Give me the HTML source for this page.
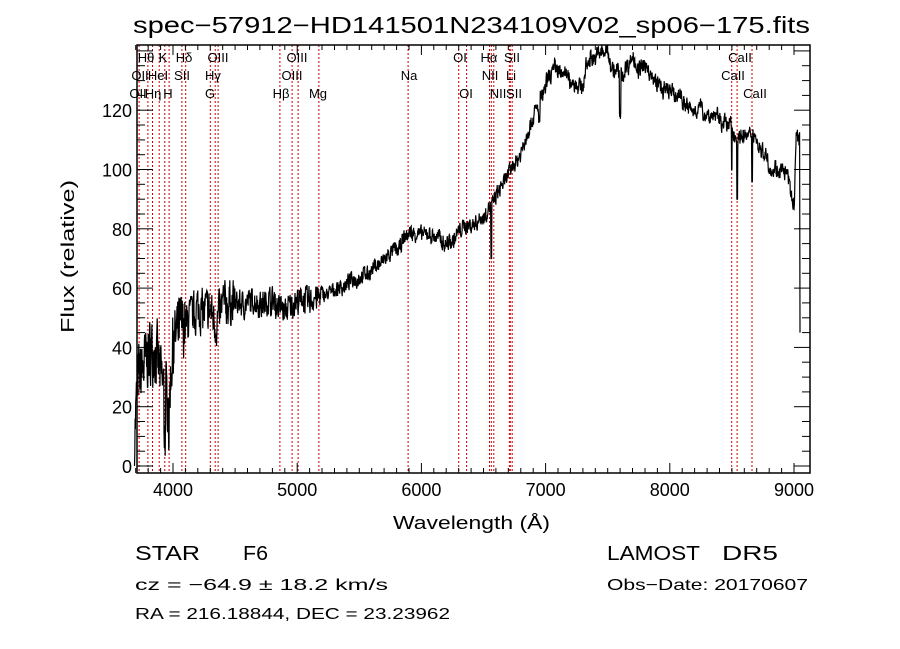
<!DOCTYPE html>
<html><head><meta charset="utf-8"><style>
body{margin:0;background:#fff;}
svg{display:block;font-family:"Liberation Sans","DejaVu Sans",sans-serif;}
</style></head><body>
<svg id="s" width="900" height="649" viewBox="0 0 900 649" xmlns="http://www.w3.org/2000/svg">
<rect width="900" height="649" fill="#fff"/>
<text x="133" y="33" font-size="23" textLength="677" lengthAdjust="spacingAndGlyphs">spec−57912−HD141501N234109V02_sp06−175.fits</text>
<text transform="translate(74,333) rotate(-90)" font-size="18" textLength="153" lengthAdjust="spacingAndGlyphs">Flux (relative)</text>
<text x="393" y="529" font-size="18" textLength="157" lengthAdjust="spacingAndGlyphs">Wavelength (Å)</text>
<text x="135" y="560" font-size="20" textLength="65" lengthAdjust="spacingAndGlyphs">STAR</text>
<text x="243" y="560" font-size="20" textLength="25" lengthAdjust="spacingAndGlyphs">F6</text>
<text x="607" y="560" font-size="20" textLength="93" lengthAdjust="spacingAndGlyphs">LAMOST</text>
<text x="722" y="560" font-size="20" textLength="56" lengthAdjust="spacingAndGlyphs">DR5</text>
<text x="135" y="590" font-size="16" textLength="253" lengthAdjust="spacingAndGlyphs">cz = −64.9 ± 18.2 km/s</text>
<text x="607" y="590" font-size="16" textLength="201" lengthAdjust="spacingAndGlyphs">Obs−Date: 20170607</text>
<text x="135" y="619" font-size="16" textLength="315" lengthAdjust="spacingAndGlyphs">RA = 216.18844, DEC =  23.23962</text>
<g id="g"></g>
</svg>
<script>
var X=function(l){return 173+(l-4000)*0.1242;};
var Y=function(f){return 466-f*2.965;};
var L=137,R=810,T=45,B=473;
var h='';
var lines=[3727,3798,3835,3889,3934,3969,4072,4102,4300,4340,4363,4861,4959,5007,5175,5893,6300,6364,6548,6563,6583,6708,6716,6731,8498,8542,8662];
lines.forEach(function(l){var x=X(l).toFixed(1);h+='<line x1="'+x+'" y1="'+T+'" x2="'+x+'" y2="'+B+'" stroke="#c00" stroke-width="1" stroke-dasharray="2,2"/>';});
var lab=[[146,57,'Hθ'],[163,57,'K'],[184,57,'Hδ'],[218,57,'OIII'],[297,57,'OIII'],[460,57,'OI'],[489,57,'Hα'],[512,57,'SII'],[740,57,'CaII'],
[140,75,'OII'],[158,75,'HeI'],[182,75,'SII'],[213,75,'Hγ'],[292,75,'OIII'],[409,75,'Na'],[490,75,'NII'],[511,75,'Li'],[733,75,'CaII'],
[138,93,'OII'],[153,93,'Hη'],[168,93,'H'],[210,93,'G'],[281,93,'Hβ'],[318,93,'Mg'],[466,93,'OI'],[498,93,'NII'],[514,93,'SII'],[755,93,'CaII']];
lab.forEach(function(a){h+='<text x="'+a[0]+'" y="'+(a[1]+5)+'" font-size="13" text-anchor="middle">'+a[2]+'</text>';});
var k=[[3690,10],[3720,30],[3750,32],[3800,38],[3850,40],[3900,30],[3950,22],[3980,30],[4000,42],[4050,45],[4100,48],[4200,54],[4300,52],[4350,48],[4400,55],[4500,55],[4700,55],[4800,56],[4900,53],[5000,55],[5200,57],[5400,61],[5600,66],[5800,72],[5900,78],[6000,78],[6200,76],[6300,79],[6400,82],[6500,84],[6600,90],[6700,97],[6800,106],[6900,118],[7000,128],[7075,137],[7200,132],[7277,127],[7350,136],[7438,141],[7520,139],[7600,133],[7700,137],[7760,136],[7920,128],[8000,125],[8160,121],[8300,118],[8400,118],[8520,114],[8600,110],[8720,107],[8800,103],[8960,95],[9000,84],[9020,112],[9040,108]];
function base(l){for(var i=0;i<k.length-1;i++){if(l>=k[i][0]&&l<=k[i+1][0]){var t=(l-k[i][0])/(k[i+1][0]-k[i][0]);return k[i][1]+t*(k[i+1][1]-k[i][1]);}}return k[k.length-1][1];}
var seed=7;function rnd(){seed=(seed*16807)%2147483647;return seed/2147483647-0.5;}
var pts=[],sm=0,slow=0;
for(var l=3690;l<=9045;l+=2.5){
 var amp=l<4100?30:l<4500?20:l<5200?12:l<6000?7:7;
 sm=sm*0.3+rnd()*amp*0.7;
 slow=slow*0.95+rnd()*(l>6800?1.6:0.8);
 var f=base(l)+sm+slow;
 if(Math.abs(l-3934)<8||Math.abs(l-3969)<6)f-=12;
 if(Math.abs(l-6563)<4)f=70;
 if(Math.abs(l-8542)<4)f=90;if(Math.abs(l-8662)<4)f=96;if(Math.abs(l-8498)<3)f=100;
 if(Math.abs(l-7600)<6)f-=14;if(Math.abs(l-6950)<6)f-=6;
 if(f<0)f=0;if(f>142)f=142;
 pts.push(X(l).toFixed(1)+','+Y(f).toFixed(1));
}
pts.push(X(9048).toFixed(1)+','+Y(45).toFixed(1));
h+='<polyline points="'+pts.join(' ')+'" fill="none" stroke="#000" stroke-width="1.2"/>';
h+='<rect x="'+L+'" y="'+T+'" width="'+(R-L)+'" height="'+(B-T)+'" fill="none" stroke="#000" stroke-width="1.5"/>';
for(var w=3700;w<=9000;w+=100){var x=X(w).toFixed(1),big=w%1000==0,len=big?10:5;
 h+='<line x1="'+x+'" y1="'+B+'" x2="'+x+'" y2="'+(B-len)+'" stroke="#000"/><line x1="'+x+'" y1="'+T+'" x2="'+x+'" y2="'+(T+len)+'" stroke="#000"/>';
 if(w%1000==0)h+='<text x="'+x+'" y="'+(B+23)+'" font-size="18" text-anchor="middle">'+w+'</text>';}
for(var f=0;f<=140;f+=5){var y=Y(f).toFixed(1),big=f%20==0,len=big?16:8;
 h+='<line x1="'+L+'" y1="'+y+'" x2="'+(L+len)+'" y2="'+y+'" stroke="#000"/><line x1="'+R+'" y1="'+y+'" x2="'+(R-len)+'" y2="'+y+'" stroke="#000"/>';
 if(big&&f<=120)h+='<text x="'+(L-5)+'" y="'+(+y+7)+'" font-size="18" text-anchor="end">'+f+'</text>';}
document.getElementById('g').innerHTML=h;
</script>
</body></html>
